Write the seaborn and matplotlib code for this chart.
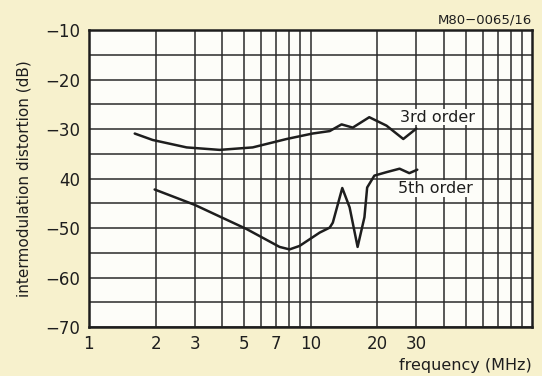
import numpy as np
import pandas as pd
import matplotlib
matplotlib.use("Agg")
import matplotlib.pyplot as plt
import seaborn as sns
from matplotlib.ticker import FixedLocator, NullFormatter

# ---- data ----
freq_3rd = [1.61, 1.94, 2.76, 3.89, 5.48, 7.8, 10.2, 12.2, 13.8, 15.5, 18.4, 22.0, 24.4, 26.2, 30.0]
db_3rd = [-30.9, -32.2, -33.7, -34.2, -33.7, -32.0, -30.9, -30.4, -29.05, -29.7, -27.6, -29.3, -30.9, -32.0, -29.9]

freq_5th = [1.98, 3.0, 5.15, 7.25, 8.04, 8.92, 11.0, 12.2, 12.6, 13.9, 15.0, 16.3, 17.5, 18.0, 19.4, 22.0, 25.2, 27.9, 30.3]
db_5th = [-42.2, -45.3, -50.2, -53.8, -54.3, -53.6, -50.9, -49.9, -48.9, -41.9, -45.8, -53.8, -47.8, -41.8, -39.4, -38.7, -38.0, -38.9, -38.2]

x_major = [1, 2, 3, 5, 7, 10, 20, 30]
x_major_labels = ["1", "2", "3", "5", "7", "10", "20", "30"]
x_minor = [4, 6, 8, 9, 40, 50, 60, 70, 80, 90]
y_major = [-70, -60, -50, -40, -30, -20, -10]
y_major_labels = ["\u221270", "\u221260", "\u221250", "40", "\u221230", "\u221220", "\u221210"]
y_minor = [-65, -55, -45, -35, -25, -15]

sns.set_style("white")
plt.rcParams["font.family"] = ["DejaVu Sans"]

bg = "#f7f1cd"
ink = "#1e1e1e"

fig = plt.figure(figsize=(5.42, 3.76), dpi=100, facecolor=bg)
ax = fig.add_axes([0.164, 0.130, 0.818, 0.790])
ax.set_facecolor("#fdfdf9")

df3 = pd.DataFrame({"f": freq_3rd, "db": db_3rd})
df5 = pd.DataFrame({"f": freq_5th, "db": db_5th})
sns.lineplot(data=df3, x="f", y="db", ax=ax, color=ink, lw=1.8, sort=False, zorder=3)
sns.lineplot(data=df5, x="f", y="db", ax=ax, color=ink, lw=1.8, sort=False, zorder=3)

ax.set_xscale("log")
ax.set_xlim(1, 100)
ax.set_ylim(-70, -10)

ax.xaxis.set_major_locator(FixedLocator(x_major))
ax.xaxis.set_minor_locator(FixedLocator(x_minor))
ax.xaxis.set_minor_formatter(NullFormatter())
ax.set_xticklabels(x_major_labels)
ax.yaxis.set_major_locator(FixedLocator(y_major))
ax.yaxis.set_minor_locator(FixedLocator(y_minor))
ax.set_yticklabels(y_major_labels)

ax.tick_params(which="both", length=0)
ax.tick_params(axis="x", pad=6, labelsize=12, colors=ink)
ax.tick_params(axis="y", pad=6, labelsize=12, colors=ink)

ax.grid(which="both", color="#2a2a2a", lw=1.1, zorder=1)
ax.set_axisbelow(True)
for s in ax.spines.values():
    s.set_visible(True)
    s.set_color(ink)
    s.set_linewidth(1.8)

ax.set_xlabel("")
ax.set_ylabel("intermodulation distortion (dB)", fontsize=11, color=ink, labelpad=10)

fig.text(0.982, 0.027, "frequency (MHz)", ha="right", va="center", fontsize=11.5, color=ink)
fig.text(0.982, 0.947, "M80\u22120065/16", ha="right", va="center", fontsize=9.5, color=ink)

ax.text(37.3, -27.6, "3rd order", ha="center", va="center", fontsize=11.5, color=ink,
        bbox=dict(facecolor="#fdfdf9", edgecolor="none", pad=0.5), zorder=4)
ax.text(36.5, -42.0, "5th order", ha="center", va="center", fontsize=11.5, color=ink,
        bbox=dict(facecolor="#fdfdf9", edgecolor="none", pad=0.5), zorder=4)

fig.savefig("out.png", dpi=100, facecolor=bg)
